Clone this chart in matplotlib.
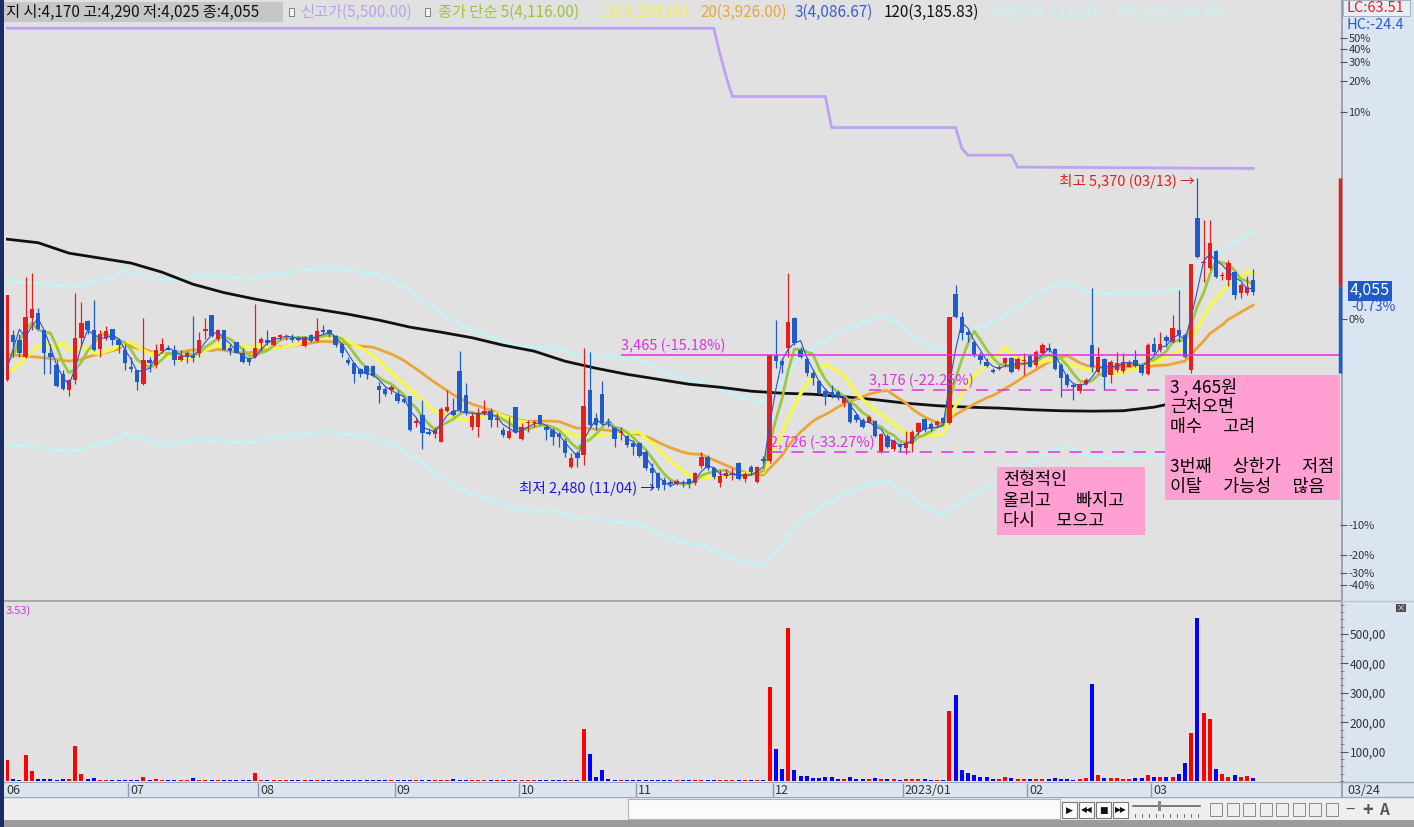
import numpy as np
import pandas as pd
import matplotlib
matplotlib.use("Agg")
import matplotlib.pyplot as plt
from matplotlib.patches import Rectangle
from matplotlib.ticker import FixedLocator, NullLocator, MultipleLocator

plt.rcParams['font.family'] = ['Noto Sans CJK KR', 'DejaVu Sans']

# ---------------- data ----------------
opens = [3257, 3641, 3596, 3447, 3795, 3850, 3692, 3480, 3380, 3306,
         3177, 3262, 3620, 3775, 3690, 3522, 3620, 3695, 3600, 3508,
         3367, 3339, 3225, 3428, 3380, 3500, 3530, 3514, 3428, 3447,
         3458, 3480, 3680, 3830, 3611, 3686, 3530, 3581, 3480, 3440,
         3447, 3575, 3596, 3552, 3626, 3626, 3620, 3620, 3545, 3647,
         3590, 3686, 3692, 3635, 3558, 3422, 3395, 3345, 3375, 3370,
         3210, 3185, 3177, 3145, 3112, 3130, 2930, 2990, 2866, 2850,
         2797, 3020, 3016, 3331, 3138, 2900, 2900, 3002, 3016, 2950,
         2878, 2822, 3047, 2815, 2930, 2930, 2987, 2900, 2878, 2850,
         2800, 2626, 2718, 2705, 3177, 2965, 3146, 2936, 2893, 2858,
         2836, 2787, 2787, 2725, 2620, 2588, 2543, 2530, 2518, 2530,
         2550, 2525, 2632, 2692, 2620, 2524, 2569, 2582, 2652, 2550,
         2626, 2530, 2680, 2665, 3460, 3415, 3530, 3797, 3508, 3430,
         3314, 3249, 3170, 3162, 3162, 3077, 3070, 2987, 2950, 2928,
         2943, 2725, 2836, 2746, 2780, 2753, 2780, 2865, 2958, 2922,
         2914, 2965, 2928, 4030, 3808, 3668, 3580, 3465, 3405, 3339,
         3348, 3397, 3440, 3348, 3413, 3456, 3380, 3482, 3525, 3517,
         3380, 3298, 3217, 3170, 3225, 3552, 3322, 3430, 3298, 3339,
         3331, 3363, 3422, 3380, 3306, 3560, 3508, 3623, 3578, 3686,
         3641, 3339, 4870, 4350, 4300, 4480, 4215, 4172, 4255, 4040,
         4040, 4170]
highs = [4020, 3686, 3656, 4200, 4250, 3890, 3692, 3566, 3422, 3339,
         3270, 4040, 3950, 3780, 3971, 3686, 3720, 3695, 3620, 3566,
         3450, 3339, 3795, 3450, 3566, 3620, 3552, 3552, 3508, 3500,
         3820, 3670, 3795, 3830, 3695, 3686, 3566, 3581, 3530, 3450,
         3930, 3626, 3686, 3630, 3656, 3656, 3650, 3630, 3630, 3656,
         3795, 3730, 3700, 3641, 3558, 3450, 3395, 3360, 3380, 3380,
         3245, 3203, 3215, 3177, 3125, 3130, 2965, 3100, 2890, 2900,
         3045, 3177, 3115, 3500, 3233, 3010, 3040, 3100, 3040, 3002,
         2900, 2972, 3047, 2930, 2950, 2950, 2987, 2914, 2893, 2865,
         2822, 2718, 2732, 3525, 3490, 3002, 3250, 2965, 2900, 2900,
         2843, 2808, 2795, 2739, 2652, 2594, 2562, 2543, 2550, 2543,
         2556, 2594, 2725, 2705, 2630, 2607, 2613, 2620, 2659, 2594,
         2639, 2632, 2700, 3465, 3779, 3440, 4245, 3808, 3535, 3448,
         3339, 3257, 3193, 3217, 3177, 3123, 3085, 3002, 2965, 2987,
         2950, 2858, 2850, 2815, 2787, 2870, 2878, 2936, 2965, 2936,
         2950, 2972, 3805, 4120, 3855, 3686, 3596, 3490, 3440, 3356,
         3380, 3448, 3448, 3448, 3482, 3473, 3508, 3570, 3570, 3525,
         3397, 3314, 3233, 3233, 3273, 4090, 3535, 3440, 3422, 3490,
         3482, 3422, 3508, 3397, 3570, 3623, 3668, 3641, 3826, 4070,
         3659, 4345, 5370, 4840, 4840, 4493, 4255, 4384, 4265, 4145,
         4215, 4290]
lows = [3250, 3450, 3450, 3440, 3686, 3686, 3306, 3306, 3203, 3182,
        3130, 3230, 3540, 3656, 3500, 3450, 3596, 3552, 3480, 3339,
        3325, 3177, 3220, 3325, 3360, 3480, 3508, 3380, 3417, 3395,
        3405, 3450, 3610, 3626, 3590, 3508, 3467, 3480, 3400, 3380,
        3440, 3500, 3552, 3545, 3600, 3596, 3581, 3590, 3540, 3581,
        3581, 3656, 3626, 3540, 3450, 3380, 3235, 3285, 3270, 3285,
        3080, 3135, 3150, 3075, 3075, 2873, 2900, 2750, 2842, 2820,
        2792, 3010, 2980, 3010, 2987, 2878, 2830, 2987, 2900, 2900,
        2830, 2815, 2858, 2808, 2865, 2900, 2914, 2808, 2773, 2760,
        2692, 2620, 2626, 2639, 2900, 2878, 2914, 2900, 2760, 2808,
        2760, 2705, 2692, 2607, 2490, 2480, 2481, 2500, 2512, 2500,
        2495, 2512, 2620, 2607, 2550, 2500, 2556, 2543, 2543, 2530,
        2575, 2524, 2655, 2655, 3355, 3315, 3450, 3552, 3440, 3290,
        3217, 3146, 3062, 3115, 3100, 3047, 2928, 2936, 2893, 2928,
        2830, 2718, 2753, 2732, 2725, 2712, 2725, 2843, 2865, 2870,
        2900, 2922, 2922, 3800, 3596, 3580, 3448, 3388, 3363, 3314,
        3339, 3363, 3314, 3339, 3298, 3363, 3363, 3465, 3490, 3339,
        3123, 3201, 3100, 3154, 3217, 3322, 3314, 3177, 3233, 3322,
        3314, 3363, 3363, 3298, 3298, 3465, 3490, 3535, 3570, 3578,
        3440, 3314, 4410, 4150, 4276, 4190, 4172, 4110, 3980, 3990,
        4020, 4025]
closes = [4020, 3581, 3485, 3804, 3883, 3695, 3480, 3447, 3211, 3190,
          3262, 3620, 3750, 3686, 3508, 3656, 3677, 3596, 3552, 3395,
          3345, 3240, 3428, 3395, 3508, 3566, 3514, 3422, 3458, 3480,
          3440, 3600, 3700, 3630, 3686, 3514, 3497, 3485, 3405, 3405,
          3530, 3610, 3572, 3626, 3640, 3632, 3602, 3602, 3626, 3587,
          3680, 3671, 3656, 3552, 3488, 3395, 3306, 3306, 3310, 3292,
          3177, 3150, 3203, 3095, 3087, 2878, 2945, 2860, 2850, 2883,
          3030, 3045, 2987, 3024, 3002, 2980, 3002, 3016, 2950, 2965,
          2843, 2870, 2865, 2900, 2936, 2936, 2922, 2878, 2830, 2830,
          2718, 2685, 2685, 3055, 2914, 2914, 2928, 2928, 2815, 2865,
          2773, 2760, 2700, 2620, 2588, 2495, 2512, 2518, 2537, 2525,
          2518, 2588, 2692, 2620, 2562, 2569, 2588, 2588, 2550, 2582,
          2594, 2626, 2665, 3465, 3415, 3380, 3760, 3570, 3448, 3314,
          3273, 3154, 3123, 3138, 3130, 3115, 2936, 2950, 2900, 2972,
          2836, 2850, 2760, 2800, 2760, 2787, 2865, 2928, 2878, 2885,
          2936, 2928, 3805, 3808, 3660, 3641, 3465, 3422, 3370, 3322,
          3365, 3440, 3322, 3430, 3422, 3363, 3490, 3552, 3508, 3348,
          3273, 3217, 3201, 3225, 3257, 3363, 3448, 3282, 3405, 3397,
          3405, 3405, 3372, 3314, 3552, 3490, 3560, 3588, 3704, 3641,
          3448, 4340, 4420, 4360, 4570, 4200, 4224, 4350, 4020, 4120,
          4100, 4055]
volumes = [72, 8, 5, 88, 34, 6, 6, 6, 5, 6,
           8, 119, 23, 6, 10, 5, 5, 5, 5, 4,
           5, 5, 12, 3, 6, 3, 3, 3, 4, 3,
           10, 5, 5, 3, 5, 3, 3, 3, 3, 3,
           27, 5, 5, 3, 3, 3, 4, 3, 5, 5,
           3, 3, 3, 5, 5, 3, 3, 3, 5, 3,
           3, 3, 5, 5, 3, 3, 5, 3, 3, 5,
           3, 3, 8, 3, 5, 3, 3, 3, 3, 3,
           3, 3, 3, 3, 3, 3, 3, 3, 3, 3,
           3, 3, 3, 177, 93, 15, 37, 6, 5, 5,
           5, 5, 3, 3, 5, 5, 3, 3, 3, 3,
           3, 3, 5, 3, 3, 3, 3, 3, 3, 3,
           3, 3, 3, 320, 110, 41, 521, 37, 18, 18,
           10, 10, 12, 12, 8, 6, 12, 8, 8, 6,
           10, 8, 6, 6, 5, 6, 8, 6, 6, 5,
           5, 5, 238, 292, 37, 27, 21, 12, 12, 8,
           8, 12, 10, 8, 6, 8, 8, 8, 6, 10,
           8, 6, 5, 8, 10, 331, 20, 10, 10, 10,
           6, 8, 10, 10, 20, 12, 12, 15, 15, 25,
           60, 165, 555, 230, 210, 40, 25, 15, 20, 12,
           18, 10]

# moving-average values at the left edge (period not complete inside the chart)
ma3_head = [3350, 3520]
ma5_head = [3410, 3465, 3596, 3686]
ma10_head = [3318, 3347, 3389, 3440, 3490, 3543, 3552, 3543, 3525]
ma20_head = [3473, 3468, 3462, 3456, 3452, 3448, 3442, 3436, 3430, 3422,
             3414, 3422, 3430, 3448, 3465, 3478, 3490, 3504, 3517]
env_pct = 20

# 120-day MA
ma120_idx = [0, 5, 10, 16, 20, 25, 30, 35, 40, 45, 50, 55, 60, 65, 70, 75, 80,
             85, 90, 95, 100, 105, 110, 115, 120, 125, 130, 135, 140, 145, 150,
             155, 160, 165, 170, 175, 180, 185, 188, 195, 201]
ma120_val = [4617, 4577, 4460, 4395, 4352, 4255, 4130, 4045, 3981, 3927, 3883,
             3835, 3779, 3714, 3668, 3618, 3552, 3500, 3414, 3355, 3305, 3265,
             3225, 3201, 3170, 3154, 3146, 3127, 3104, 3077, 3058, 3047, 3040,
             3028, 3020, 3017, 3020, 3047, 3077, 3130, 3186]

# 신고가 (new-high) line
newhigh_idx = [0, 114, 115, 116, 117, 132, 133, 153, 154, 155, 162, 163, 201]
newhigh_val = [7780, 7780, 7300, 6900, 6572, 6572, 6085, 6085, 5780, 5684, 5684, 5518, 5500]

# reference levels
level_vals = [3465, 3176, 2726]
level_start = [99, 139, 123]
level_text = ['3,465 (-15.18%)', '3,176 (-22.25%)', '2,726 (-33.27%)']
level_dashed = [False, True, True]

# right-hand percentage scale
pct_levels = [7594, 7390, 7156, 6827, 6323, 3788, 2275, 2112, 2020, 1961]
pct_labels = ['50%', '40%', '30%', '20%', '10%', '0%', '-10%', '-20%', '-30%', '-40%']

month_labels = ['06', '07', '08', '09', '10', '11', '12', '2023/01', '02', '03']
month_start = [0, 20, 41, 63, 83, 102, 124, 145, 165, 185]

hi_idx, hi_val = 192, 5370
lo_idx, lo_val = 105, 2480
last_close, last_chg = 4055, '-0.73%'
range_bar = [3315, 4110, 5370]
vol_ticks = [100, 200, 300, 400, 500]

# ---------------- derived series ----------------
n = len(closes)
idx = np.arange(n)
o = np.array(opens, float); h = np.array(highs, float)
l = np.array(lows, float); c = np.array(closes, float)
cs = pd.Series(c)
ma3 = cs.rolling(3).mean().values; ma3[:len(ma3_head)] = ma3_head
ma5 = cs.rolling(5).mean().values; ma5[:len(ma5_head)] = ma5_head
ma10 = cs.rolling(10).mean().values; ma10[:len(ma10_head)] = ma10_head
ma20 = cs.rolling(20).mean().values; ma20[:len(ma20_head)] = ma20_head
env_up = ma20 * (1 + env_pct / 100)
env_dn = ma20 * (1 - env_pct / 100)

RED = '#ea1c1c'
BLUE = '#1e5cc8'
GRID_BG = '#e1e1e1'
PANEL = '#dbe5f1'
MAG = '#e030e0'

# ---------------- figure ----------------
W, H = 1414, 827
fig = plt.figure(figsize=(W / 100, H / 100), dpi=100)
fig.patch.set_facecolor(GRID_BG)


def box(x0, y0, x1, y1):
    return [x0 / W, 1 - y1 / H, (x1 - x0) / W, (y1 - y0) / H]


bg = fig.add_axes([0, 0, 1, 1], zorder=-5)
bg.set_xlim(0, W); bg.set_ylim(H, 0); bg.axis('off')


def rect(x0, y0, x1, y1, fc, ec='none', lw=0.0, z=1):
    bg.add_patch(Rectangle((x0, y0), x1 - x0, y1 - y0, facecolor=fc,
                           edgecolor=ec, linewidth=lw, zorder=z))


rect(1342, 0, W, 782, PANEL)
rect(0, 782, W, 797, PANEL)
rect(0, 797, W, 820, '#efefef')
rect(0, 820, W, 827, '#9c9c9c')
rect(0, 0, 4, H, '#1b2b63', z=5)
bg.plot([1342, 1342], [0, 797], color='#8a9aae', lw=1.2, zorder=3)
bg.plot([4, 1342], [601, 601], color='#a8a8a8', lw=1.5, zorder=3)
bg.plot([1342, W], [601, 601], color='#b8c4d4', lw=1, zorder=3)
bg.plot([4, W], [782, 782], color='#9aa8ba', lw=1, zorder=3)
bg.plot([4, W], [797, 797], color='#9aa8ba', lw=1, zorder=3)

# header
rect(4, 2, 283, 22, '#c6c6c6')
hy = 12
HFS = 11
bg.text(6, hy, '지 시:4,170 고:4,290 저:4,025 종:4,055', fontsize=HFS, color='#111111',
        va='center', ha='left')
for xi in (289, 425):
    rect(xi, 8, xi + 5, 16, '#f4f4f4', ec='#707070', lw=0.6, z=2)
hdr = [(300, '신고가(5,500.00)', '#b9a3ea'), (438, '종가 단순 5(4,116.00)', '#9fc23c'),
       (603, '10(4,298.00)', '#f2f055'), (700, '20(3,926.00)', '#e9a73c'),
       (795, '3(4,086.67)', '#3a5fd0'), (884, '120(3,185.83)', '#111111'),
       (989, '저항선(4,711.20)', '#c4f2f2'), (1114, '지지선(3,140.80)', '#c4f2f2')]
for xx, tt, cc in hdr:
    bg.text(xx, hy, tt, fontsize=HFS, color=cc, va='center', ha='left')
rect(1343, 0, 1410, 16, '#e8eef6', ec='#9aa8ba', lw=0.6, z=1)
bg.text(1346, 8, 'LC:63.51', fontsize=10.5, color='#e02020', va='center', ha='left')
bg.text(1346, 25, 'HC:-24.4', fontsize=10.5, color='#2a5ad0', va='center', ha='left')

# ---------------- main price axes ----------------
px0 = 7.0
step = 6.2
x_lo = (6 - px0) / step
x_hi = x_lo + (1340 - 6) / step

ax = fig.add_axes(box(6, 22, 1340, 600))
ax.set_facecolor(GRID_BG)
for s in ax.spines.values():
    s.set_visible(False)
ax.set_yscale('log')
ax.set_ylim(1891, 7901)
ax.set_xlim(x_lo, x_hi)
ax.set_xticks([])
ax.yaxis.tick_right()
ax.yaxis.set_major_locator(FixedLocator(pct_levels))
ax.yaxis.set_minor_locator(NullLocator())
ax.set_yticklabels(pct_labels)
ax.tick_params(axis='y', direction='out', length=5, width=0.8, color='#555555',
               labelsize=8, labelcolor='#333333', pad=1)

ax.plot(idx, env_up, color='#c2f2f4', lw=2, zorder=2)
ax.plot(idx, env_dn, color='#c2f2f4', lw=2, zorder=2)
ax.plot(ma120_idx, ma120_val, color='#111111', lw=2, zorder=2)
ax.plot(newhigh_idx, newhigh_val, color='#bda2f4', lw=2, zorder=2)
ax.plot(idx, ma20, color='#eba535', lw=2, zorder=3)
ax.plot(idx, ma10, color='#f6f650', lw=2.5, zorder=3)
ax.plot(idx, ma5, color='#9cc83c', lw=2, zorder=3)

up = c >= o
cols = np.where(up, RED, BLUE)
ax.vlines(idx, l, h, colors=cols, lw=0.9, zorder=4)
body_lo = np.minimum(o, c)
body_h = np.maximum(np.abs(c - o), body_lo * 0.003)
ax.bar(idx, body_h, bottom=body_lo, width=0.68, color=cols, linewidth=0, zorder=5)
ax.plot(idx, ma3, color='#2f4fd8', lw=0.8, zorder=6)

# reference levels
for val, st, txt, dsh in zip(level_vals, level_start, level_text, level_dashed):
    ax.hlines(val, st, x_hi, colors=MAG, lw=1.1,
              linestyles=(0, (8, 6)) if dsh else 'solid', zorder=6)
    ax.annotate(txt, (st, val), xytext=(0, 2), textcoords='offset pixels',
                fontsize=10.5, color=MAG, ha='left', va='bottom', zorder=6)

ax.annotate('최고 5,370 (03/13) →', (hi_idx - 0.4, hi_val), xytext=(0, -3),
            textcoords='offset pixels', fontsize=10.5, color='#e02020',
            ha='right', va='center', zorder=7)
ax.annotate('최저 2,480 (11/04) →', (lo_idx - 0.5, lo_val), xytext=(0, 2),
            textcoords='offset pixels', fontsize=10.5, color='#1a1ae6',
            ha='right', va='center', zorder=7)

# notes (pink boxes)
PINK = '#ff9fd2'
ax.add_patch(Rectangle((159.7, 2219), 183.5 - 159.7, 2626 - 2219,
                       facecolor=PINK, edgecolor='none', zorder=8))
ax.add_patch(Rectangle((186.8, 2420), 40, 3298 - 2420,
                       facecolor=PINK, edgecolor='none', zorder=8))
note1 = ['전형적인', '올리고\u3000  빠지고', '다시\u3000 모으고']
note2 = ['3 , 465원', '근처오면', '매수\u3000 고려', '', '3번째\u3000 상한가\u3000 저점',
         '이탈\u3000 가능성\u3000 많음']
for k, line in enumerate(note1):
    t = ax.annotate(line, (160.6, 2626), xytext=(0, -4 - 20.5 * k), textcoords='offset pixels',
                    fontsize=12.5, color='black', ha='left', va='top', zorder=9)
    t.set_clip_on(True)
for k, line in enumerate(note2):
    t = ax.annotate(line, (187.6, 3298), xytext=(0, -3 - 20.0 * k), textcoords='offset pixels',
                    fontsize=12.5, color='black', ha='left', va='top', zorder=9)
    t.set_clip_on(True)

# right-edge range bar and current price
trans = ax.get_yaxis_transform()
ax.vlines(1.0, range_bar[1], range_bar[2], colors='#e02020', lw=2.5, transform=trans,
          clip_on=False, zorder=7)
ax.vlines(1.0, range_bar[0], range_bar[1], colors='#1e5cc8', lw=2.5, transform=trans,
          clip_on=False, zorder=7)
ax.annotate(f'{last_close:,}', (1.0, last_close), xycoords=trans, xytext=(10, 1),
            textcoords='offset pixels', fontsize=11.5, color='white', ha='left', va='center',
            bbox=dict(boxstyle='square,pad=0.1', fc='#1f5bc4', ec='none'),
            annotation_clip=False, zorder=9)
ax.annotate(last_chg, (1.0, last_close), xycoords=trans, xytext=(11, -15),
            textcoords='offset pixels', fontsize=10, color='#2a5ad0', ha='left', va='center',
            annotation_clip=False, zorder=9)

# ---------------- volume axes ----------------
vax = fig.add_axes(box(6, 602, 1340, 782))
vax.set_facecolor(GRID_BG)
for s in vax.spines.values():
    s.set_visible(False)
vax.set_xlim(x_lo, x_hi)
vax.set_ylim(-3.4, 609)
vax.set_xticks([])
vcols = np.where(up, '#ff0000', '#0000ff')
vax.bar(idx, volumes, width=0.66, color=vcols, linewidth=0, zorder=3)
vax.yaxis.tick_right()
vax.yaxis.set_major_locator(FixedLocator(vol_ticks))
vax.yaxis.set_minor_locator(MultipleLocator(25))
vax.set_yticklabels([f'{v},00' for v in vol_ticks])
vax.tick_params(axis='y', which='major', direction='out', length=6, width=0.8,
                color='#555555', labelsize=8.5, labelcolor='#333333', pad=1)
vax.tick_params(axis='y', which='minor', direction='out', length=3, width=0.6, color='#777777')
vax.text(0.0, 0.985, '3.53)', transform=vax.transAxes, fontsize=8, color=MAG,
         ha='left', va='top')
rect(1396, 604, 1406, 612, '#505050', z=2)
bg.text(1401, 608, '×', fontsize=6, color='white', ha='center', va='center', zorder=3)

# ---------------- date strip ----------------
dax = fig.add_axes(box(6, 783, 1340, 797))
dax.set_facecolor(PANEL)
for s in dax.spines.values():
    s.set_visible(False)
dax.set_xlim(x_lo, x_hi)
dax.set_ylim(0, 1)
dax.set_xticks([]); dax.set_yticks([])
for lab, ms in zip(month_labels, month_start):
    dax.vlines(ms - 0.5, 0, 1, colors='#8a9aae', lw=1)
    dax.annotate(lab, (ms - 0.5, 0.5), xytext=(2, 0), textcoords='offset pixels',
                 fontsize=9, color='#333333', ha='left', va='center',
                 annotation_clip=False)
bg.text(1347, 790, '03/24', fontsize=9, color='#333333', ha='left', va='center', zorder=3)

# ---------------- toolbar ----------------
rect(628, 799, 1060, 819, '#fbfbfb', ec='#b4b4b4', lw=0.8)
for k, sym in enumerate(['▶', '◀◀', '■', '▶▶']):
    x0 = 1062 + k * 17
    rect(x0, 802, x0 + 15, 818, '#fdfdfd', ec='#7a7a7a', lw=0.8)
    bg.text(x0 + 7.5, 810, sym, fontsize=5.5 if len(sym) > 1 else 6.5, color='#111111',
            ha='center', va='center', zorder=3, family='DejaVu Sans')
bg.plot([1133, 1200], [806, 806], color='#666666', lw=1.2, zorder=3)
rect(1158, 801, 1161, 811, '#888888', z=4)
for k in range(10):
    bg.plot([1135 + 7 * k, 1135 + 7 * k], [814, 817], color='#555555', lw=0.6, zorder=3)
for k in range(8):
    rect(1210 + 16.5 * k, 803, 1222 + 16.5 * k, 816, 'none', ec='#8a8a8a', lw=0.7)
bg.text(1350, 810, '−', fontsize=12, color='#555555', ha='center', va='center', zorder=3)
bg.text(1368, 810, '+', fontsize=13, color='#555555', ha='center', va='center', zorder=3,
        fontweight='bold')
bg.text(1384, 810, 'A', fontsize=11, color='#555555', ha='center', va='center', zorder=3,
        fontweight='bold')

fig.savefig('out.png', dpi=100, facecolor=fig.get_facecolor())
